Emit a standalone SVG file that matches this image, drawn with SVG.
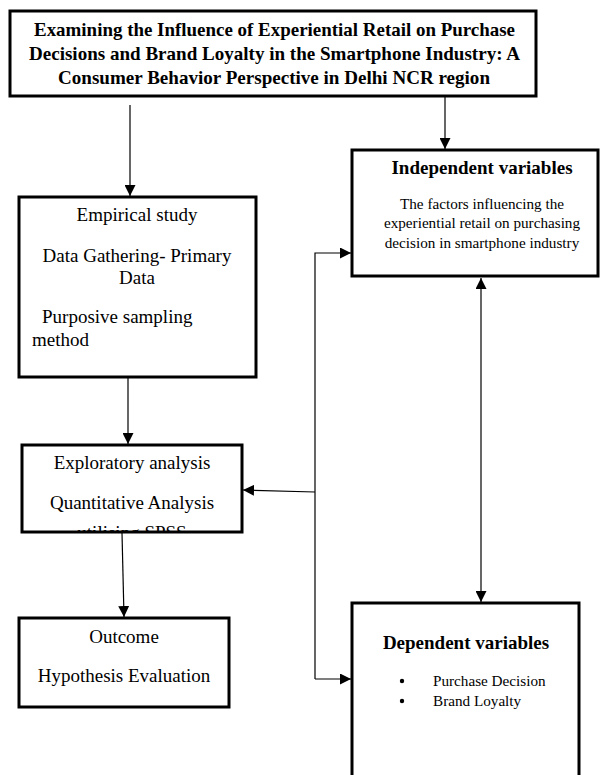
<svg xmlns="http://www.w3.org/2000/svg" width="600" height="775" viewBox="0 0 600 775">
<style>
.box{fill:#fff;stroke:#000;stroke-width:3}
.t{font-family:"Liberation Serif","Times New Roman",serif;fill:#000}
.b{font-weight:bold}
.c{text-anchor:middle}
.m{font-size:19px}
.s{font-size:15.2px}
.ln{fill:none;stroke:#000;stroke-width:1.2}
</style>
<defs>
<marker id="ah" viewBox="0 0 10 10" refX="10" refY="5" markerWidth="11" markerHeight="11" markerUnits="userSpaceOnUse" orient="auto-start-reverse">
<path d="M0,0 L10,5 L0,10 Z" fill="#000"/>
</marker>
<clipPath id="clipExp"><rect x="22" y="445" width="220" height="86"/></clipPath>
</defs>
<rect width="600" height="775" fill="#fff"/>

<g id="connectors">
<line class="ln" x1="130" y1="105" x2="130" y2="196" marker-end="url(#ah)"/>
<line class="ln" x1="445" y1="97" x2="445" y2="149" marker-end="url(#ah)"/>
<line class="ln" x1="128" y1="378" x2="128" y2="444" marker-end="url(#ah)"/>
<line class="ln" x1="122" y1="533" x2="124" y2="617" marker-end="url(#ah)"/>
<polyline class="ln" points="315,679 315,253 351,253" marker-end="url(#ah)"/>
<line class="ln" x1="315" y1="679" x2="351" y2="679" marker-end="url(#ah)"/>
<line class="ln" x1="315" y1="492" x2="243" y2="490" marker-end="url(#ah)"/>
<line class="ln" x1="481" y1="278" x2="481" y2="602" marker-start="url(#ah)" marker-end="url(#ah)"/>
</g>

<g id="title">
<rect class="box" x="10" y="11" width="526" height="85"/>
<text class="t b c" font-size="19" x="274.5" y="36" textLength="481" lengthAdjust="spacingAndGlyphs">Examining the Influence of Experiential Retail on Purchase</text>
<text class="t b c" font-size="19" x="274.5" y="60" textLength="491" lengthAdjust="spacingAndGlyphs">Decisions and Brand Loyalty in the Smartphone Industry: A</text>
<text class="t b c" font-size="19" x="274" y="84" textLength="432" lengthAdjust="spacingAndGlyphs">Consumer Behavior Perspective in Delhi NCR region</text>
</g>

<g id="empirical">
<rect class="box" x="19" y="197" width="237" height="180"/>
<text class="t c m" x="137" y="221">Empirical study</text>
<text class="t c m" x="137" y="262">Data Gathering- Primary</text>
<text class="t c m" x="137" y="284">Data</text>
<text class="t m" x="42" y="323">Purposive sampling</text>
<text class="t m" x="32" y="346">method</text>
</g>

<g id="exploratory">
<rect class="box" x="22" y="445" width="220" height="87"/>
<text class="t c m" x="132" y="469">Exploratory analysis</text>
<text class="t c m" x="132" y="509">Quantitative Analysis</text>
<g clip-path="url(#clipExp)"><text class="t c m" x="132" y="539">utilising SPSS</text></g>
</g>

<g id="outcome">
<rect class="box" x="19" y="618" width="210" height="89"/>
<text class="t c m" x="124" y="643">Outcome</text>
<text class="t c m" x="124" y="682">Hypothesis Evaluation</text>
</g>

<g id="independent">
<rect class="box" x="352" y="150" width="246" height="126"/>
<text class="t b c m" x="482" y="174">Independent variables</text>
<text class="t c s" x="482" y="209">The factors influencing the</text>
<text class="t c s" x="482" y="228">experiential retail on purchasing</text>
<text class="t c s" x="482" y="248">decision in smartphone industry</text>
</g>

<g id="dependent">
<path class="box" d="M352,780 L352,603 L579,603 L579,780"/>
<text class="t b c m" x="466" y="649">Dependent variables</text>
<circle cx="402" cy="681" r="2.2" fill="#000"/>
<circle cx="402" cy="701" r="2.2" fill="#000"/>
<text class="t s" x="433" y="686">Purchase Decision</text>
<text class="t s" x="433" y="706">Brand Loyalty</text>
</g>
</svg>
